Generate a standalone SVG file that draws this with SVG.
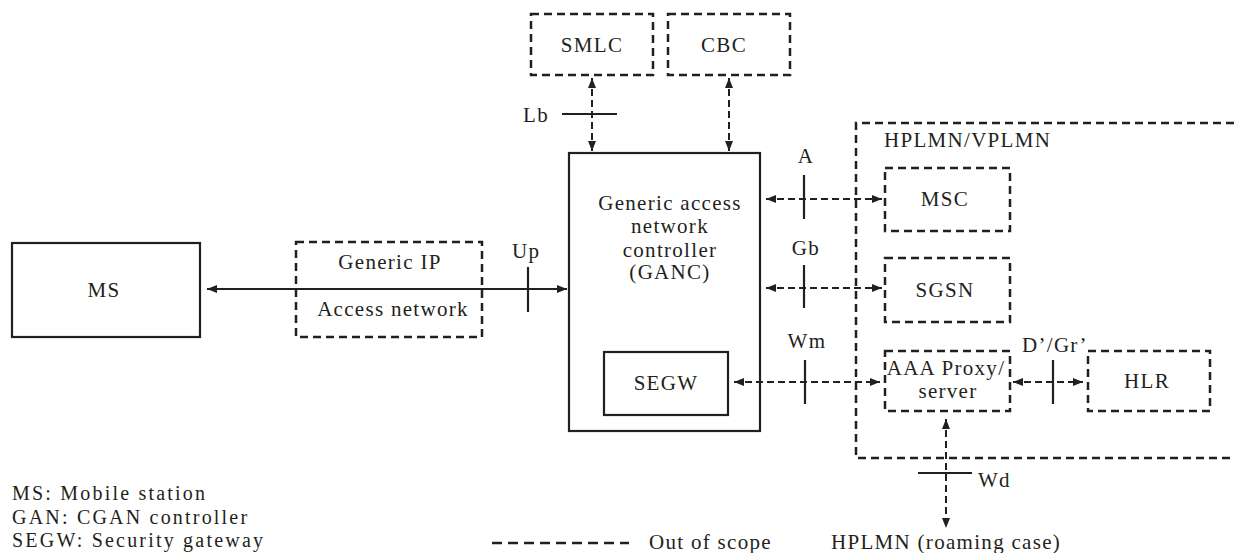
<svg xmlns="http://www.w3.org/2000/svg" width="1234" height="553" viewBox="0 0 1234 553">
<style>
text{font-family:"Liberation Serif","Times New Roman",serif;font-size:21px;fill:#231f20;letter-spacing:1.3px}
.m{text-anchor:middle}
.lg{font-size:20px;letter-spacing:2.2px}
.solid{fill:none;stroke:#231f20;stroke-width:2.2}
.dbox{fill:none;stroke:#231f20;stroke-width:2.5;stroke-dasharray:8 5}
.dcon{fill:none;stroke:#231f20;stroke-width:2;stroke-dasharray:7 4}
.scon{fill:none;stroke:#231f20;stroke-width:2.2}
.tick{fill:none;stroke:#231f20;stroke-width:2.2}
</style>
<defs>
<marker id="ah" markerUnits="userSpaceOnUse" markerWidth="10" markerHeight="8" refX="10" refY="4" orient="auto-start-reverse">
<path d="M0,0 L10,4 L0,8 z" fill="#231f20" stroke="none"/>
</marker>
</defs>

<g id="hplmn-region">
<path class="dbox" d="M1234,123 H856 V458 H1234"/>
<text x="884" y="147">HPLMN/VPLMN</text>
</g>

<g id="ms">
<rect class="solid" x="12" y="243" width="188" height="94"/>
<text class="m" x="104" y="297">MS</text>
</g>

<g id="generic-ip">
<rect class="dbox" x="296" y="242" width="186" height="95"/>
<text class="m" x="390" y="269">Generic IP</text>
<text class="m" x="393" y="316">Access network</text>
</g>

<g id="smlc">
<rect class="dbox" x="531" y="14" width="122" height="61"/>
<text class="m" x="592" y="52">SMLC</text>
</g>

<g id="cbc">
<rect class="dbox" x="668" y="14" width="122" height="61"/>
<text class="m" x="724" y="52">CBC</text>
</g>

<g id="ganc">
<rect class="solid" x="569" y="153" width="191" height="278"/>
<text class="m" x="670" y="210">Generic access</text>
<text class="m" x="670" y="233">network</text>
<text class="m" x="670" y="257">controller</text>
<text class="m" x="670" y="279">(GANC)</text>
</g>

<g id="segw">
<rect class="solid" x="604" y="352" width="124" height="63"/>
<text class="m" x="666" y="390">SEGW</text>
</g>

<g id="msc">
<rect class="dbox" x="885" y="168" width="125" height="63"/>
<text class="m" x="945" y="206">MSC</text>
</g>

<g id="sgsn">
<rect class="dbox" x="885" y="258" width="125" height="64"/>
<text class="m" x="945" y="297">SGSN</text>
</g>

<g id="aaa">
<rect class="dbox" x="885" y="351" width="125" height="60"/>
<text class="m" x="946" y="375">AAA Proxy/</text>
<text class="m" x="948" y="398">server</text>
</g>

<g id="hlr">
<rect class="dbox" x="1088" y="351" width="122" height="60"/>
<text class="m" x="1147" y="388">HLR</text>
</g>

<g id="connectors">
<line class="scon" x1="207" y1="289" x2="567" y2="289" marker-start="url(#ah)" marker-end="url(#ah)"/>
<line class="tick" x1="528" y1="267" x2="528" y2="312"/>
<text x="512" y="258">Up</text>

<line class="dcon" x1="592" y1="78" x2="592" y2="151" marker-start="url(#ah)" marker-end="url(#ah)"/>
<line class="tick" x1="562" y1="114" x2="617" y2="114"/>
<text x="523" y="122">Lb</text>

<line class="dcon" x1="729" y1="78" x2="729" y2="151" marker-start="url(#ah)" marker-end="url(#ah)"/>

<line class="dcon" x1="766" y1="199" x2="882" y2="199" marker-start="url(#ah)" marker-end="url(#ah)"/>
<line class="tick" x1="804" y1="175" x2="804" y2="219"/>
<text class="m" x="806" y="163">A</text>

<line class="dcon" x1="766" y1="288" x2="882" y2="288" marker-start="url(#ah)" marker-end="url(#ah)"/>
<line class="tick" x1="804" y1="265" x2="804" y2="308"/>
<text class="m" x="806" y="255">Gb</text>

<line class="dcon" x1="734" y1="382" x2="880" y2="382" marker-start="url(#ah)" marker-end="url(#ah)"/>
<line class="tick" x1="805" y1="360" x2="805" y2="404"/>
<text class="m" x="807" y="348">Wm</text>

<line class="dcon" x1="1013" y1="382" x2="1083" y2="382" marker-start="url(#ah)" marker-end="url(#ah)"/>
<line class="tick" x1="1053" y1="360" x2="1053" y2="404"/>
<text x="1022" y="352">D’/Gr’</text>

<line class="dcon" x1="946" y1="419" x2="946" y2="528" marker-start="url(#ah)" marker-end="url(#ah)"/>
<line class="tick" x1="918" y1="473" x2="972" y2="473"/>
<text x="978" y="487">Wd</text>
</g>

<g id="legend">
<text class="lg" x="12" y="500">MS: Mobile station</text>
<text class="lg" x="12" y="524">GAN: CGAN controller</text>
<text class="lg" x="12" y="547">SEGW: Security gateway</text>
<line class="dcon" x1="492" y1="543" x2="629" y2="543" style="stroke-dasharray:10 6;stroke-width:2.5"/>
<text x="649" y="549">Out of scope</text>
<text x="831" y="549">HPLMN (roaming case)</text>
</g>
</svg>
